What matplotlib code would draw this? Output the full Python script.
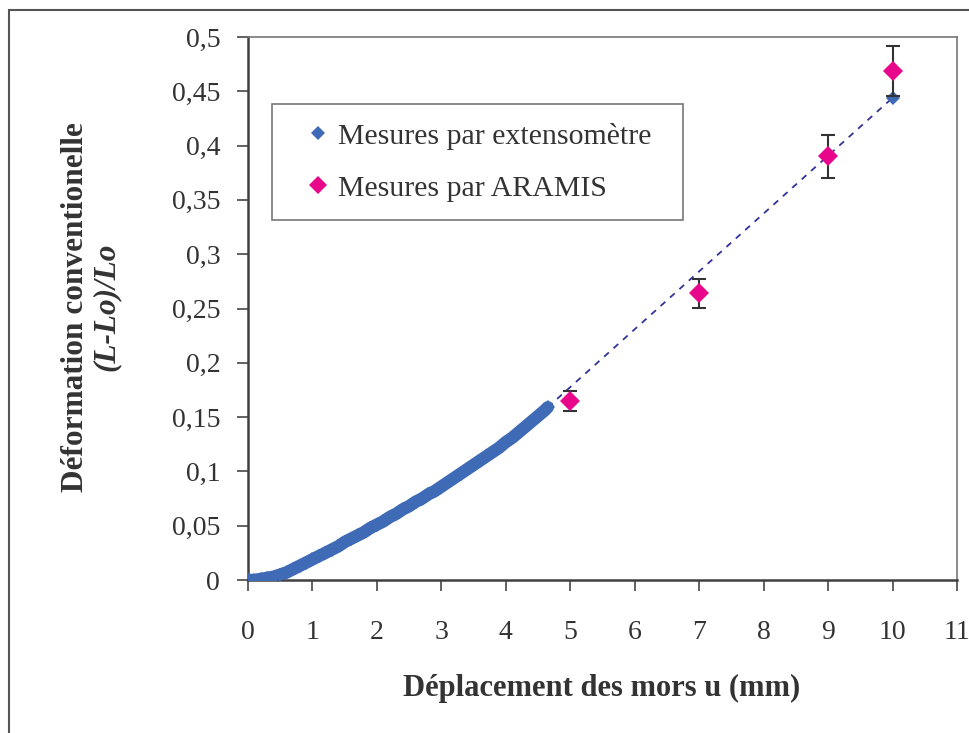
import matplotlib
matplotlib.use("Agg")
import matplotlib.pyplot as plt
from matplotlib.patches import Rectangle
from matplotlib.lines import Line2D

plt.rcParams['font.family'] = ['Liberation Serif', 'DejaVu Serif']

# ---- data ----
ext_u = [0.0, 0.1, 0.2, 0.3, 0.4, 0.5, 0.6, 0.7, 0.8, 0.9, 1.0,
         1.1, 1.2, 1.3, 1.4, 1.5, 1.6, 1.7, 1.8, 1.9, 2.0,
         2.1, 2.2, 2.3, 2.4, 2.5, 2.6, 2.7, 2.8, 2.9, 3.0,
         3.1, 3.2, 3.3, 3.4, 3.5, 3.6, 3.7, 3.8, 3.9, 4.0,
         4.1, 4.2, 4.3, 4.4, 4.5, 4.6, 4.65]
ext_eps = [0.000, 0.000, 0.001, 0.002, 0.003, 0.005, 0.007, 0.010, 0.013, 0.016, 0.019,
           0.022, 0.025, 0.028, 0.031, 0.035, 0.038, 0.041, 0.044, 0.048, 0.051,
           0.054, 0.058, 0.061, 0.065, 0.068, 0.072, 0.075, 0.079, 0.082, 0.086,
           0.090, 0.094, 0.098, 0.102, 0.106, 0.110, 0.114, 0.118, 0.122, 0.127,
           0.131, 0.136, 0.141, 0.146, 0.151, 0.156, 0.159]
ext_end_u = [10]
ext_end_eps = [0.444]
trend_u = [4.65, 10]
trend_eps = [0.159, 0.444]

aramis_u = [5, 7, 9, 10]
aramis_eps = [0.165, 0.264, 0.390, 0.469]
aramis_err = [0.009, 0.0135, 0.020, 0.023]

x_ticks = list(range(0, 12))
y_ticks = [0, 0.05, 0.1, 0.15, 0.2, 0.25, 0.3, 0.35, 0.4, 0.45, 0.5]
y_ticklabels = ['0', '0,05', '0,1', '0,15', '0,2', '0,25', '0,3', '0,35', '0,4', '0,45', '0,5']

legend_labels = ['Mesures par extensomètre', 'Mesures par ARAMIS']
xlabel = 'Déplacement des mors u (mm)'
ylabel1 = 'Déformation conventionelle'
ylabel2 = '(L-Lo)/Lo'

blue = '#3F6AB5'
magenta = '#E8068B'
txt = '#333333'

W, H = 970, 733
fig = plt.figure(figsize=(W / 100, H / 100), dpi=100)
ax = fig.add_axes([248 / W, 1 - 580 / H, (957 - 248) / W, (580 - 37) / H])

# outer frame
fig.patches.append(Rectangle((9 / W, -0.05), 1.2, 1 - 10 / H + 0.05, transform=fig.transFigure,
                             fill=False, edgecolor='#555555', linewidth=1.5, zorder=0))

ax.plot(trend_u, trend_eps, linestyle=(0, (3.5, 3.5)), color='#333399', linewidth=1.3, zorder=2)
ax.plot(ext_u, ext_eps, color=blue, linewidth=9, solid_capstyle='round', zorder=3)
ax.plot(ext_u, ext_eps, linestyle='none', marker='D', markersize=7, color=blue,
        markeredgewidth=0, zorder=3)
ax.plot(ext_end_u, ext_end_eps, linestyle='none', marker='D', markersize=7.5, color=blue,
        markeredgewidth=0, zorder=4)
ax.errorbar(aramis_u, aramis_eps, yerr=aramis_err, fmt='none', ecolor='#333333',
            elinewidth=1.5, capsize=4.8, capthick=1.5, zorder=4)
ax.plot(aramis_u, aramis_eps, linestyle='none', marker='D', markersize=10.5, color=magenta,
        markeredgewidth=0, zorder=5)

ax.set_xlim(0, 11)
ax.set_ylim(0, 0.5)
ax.set_xticks(x_ticks)
ax.set_xticklabels([str(t) for t in x_ticks])
ax.set_yticks(y_ticks)
ax.set_yticklabels(y_ticklabels)
ax.tick_params(axis='both', labelsize=20, colors='#555555', labelcolor=txt, length=8, width=1.3,
               direction='out')
ax.tick_params(axis='x', pad=21)
ax.tick_params(axis='y', pad=12)
for s in ['left', 'bottom']:
    ax.spines[s].set_color('#404040')
    ax.spines[s].set_linewidth(1.8)
for s in ['top', 'right']:
    ax.spines[s].set_color('#777777')
    ax.spines[s].set_linewidth(1.2)

fig.text(602 / W, 1 - 688 / H, xlabel, ha='center', va='center', fontsize=22,
         fontweight='bold', color=txt)
fig.text(76 / W, 1 - 307 / H, ylabel1, ha='center', va='center', rotation=90,
         fontsize=22.5, fontweight='bold', color=txt)
fig.text(106 / W, 1 - 307 / H, ylabel2, ha='center', va='center', rotation=90,
         fontsize=22.5, fontweight='bold', fontstyle='italic', color=txt)

handles = [Line2D([], [], linestyle='none', marker='D', markersize=7.2, color=blue, markeredgewidth=0),
           Line2D([], [], linestyle='none', marker='D', markersize=9.2, color=magenta, markeredgewidth=0)]
leg = fig.legend(handles, legend_labels, loc='upper left',
                 bbox_to_anchor=(272 / W, 1 - 216 / H, (683 - 272) / W, (216 - 104) / H),
                 mode='expand', fontsize=21.5, frameon=True, fancybox=False,
                 edgecolor='#555555', handlelength=1.83, handletextpad=-0.25,
                 borderpad=0.62, labelspacing=0.85, borderaxespad=0)
leg.get_frame().set_linewidth(1.2)
for t in leg.get_texts():
    t.set_color(txt)

fig.savefig('out.png', dpi=100, facecolor='white')
